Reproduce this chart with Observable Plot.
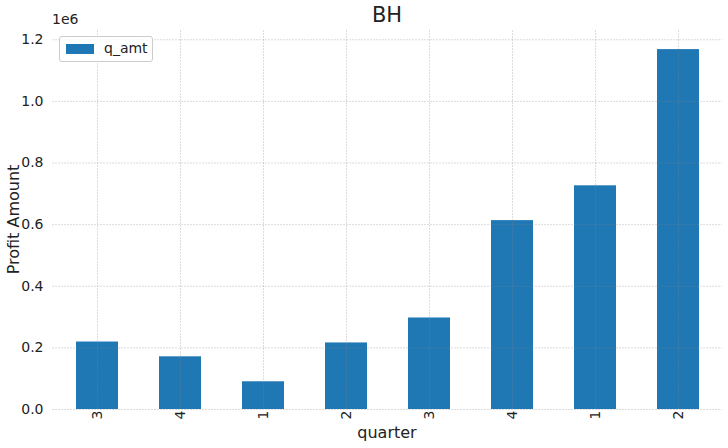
<!DOCTYPE html>
<html><head>
<script src="https://cdn.jsdelivr.net/npm/d3@7"></script>
<script src="https://cdn.jsdelivr.net/npm/@observablehq/plot@0.6"></script>
<style>
body{margin:0;background:#fff;font-family:"DejaVu Sans",sans-serif;}
#wrap{position:relative;width:728px;height:448px;}
.abs{position:absolute;color:#222;}
</style></head><body>
<div id="wrap">
<div class="abs" style="left:0;width:774px;top:3px;text-align:center;font-size:21px;">BH</div>
<div class="abs" style="left:52px;top:11px;font-size:14px;">1e6</div>
<div class="abs" style="left:52px;top:423px;width:670px;text-align:center;font-size:16px;">quarter</div>
<div class="abs" style="left:-42px;top:210px;width:110px;text-align:center;font-size:16px;transform:rotate(-90deg);">Profit Amount</div>
<div class="abs" style="left:59px;top:36px;width:92px;height:24px;border:1px solid #ccc;border-radius:3px;background:rgba(255,255,255,0.85);font-size:14px;">
<span style="position:absolute;left:6px;top:7px;width:28px;height:10px;background:#1f77b4"></span>
<span style="position:absolute;left:44px;top:3px;">q_amt</span></div>
</div>
<script>
const quarters = ["3","4","1","2","3","4","1","2"];
const qAmt = [219000,171000,90000,216000,297000,613000,726000,1168000];
const data = quarters.map((q,i)=>({i, q, v:qAmt[i]}));
const chart = Plot.plot({
  width:728, height:448,
  marginLeft:52, marginRight:6, marginTop:30, marginBottom:39,
  style:{fontSize:"14px", fontFamily:"DejaVu Sans, sans-serif", color:"#222", background:"transparent"},
  x:{domain:d3.range(8), paddingInner:0.5, paddingOuter:0.25, label:null, tickFormat:i=>quarters[i], tickRotate:-90, tickSize:0, tickPadding:1},
  y:{domain:[0,1230000], ticks:d3.range(0,1.21e6,2e5), tickFormat:d=>(d/1e6).toFixed(1), label:null, tickSize:0},
  marks:[
    Plot.barY(data,{x:"i", y:"v", fill:"#1f77b4"}),
    Plot.gridY(d3.range(0,1.21e6,2e5),{stroke:"#888", strokeOpacity:0.5, strokeDasharray:"2,1", strokeWidth:0.6}),
    Plot.gridX(d3.range(8),{stroke:"#888", strokeOpacity:0.5, strokeDasharray:"2,1", strokeWidth:0.6})
  ]
});
chart.style.position="absolute"; chart.style.left="0"; chart.style.top="0";
document.getElementById("wrap").prepend(chart);
</script>
</body></html>
